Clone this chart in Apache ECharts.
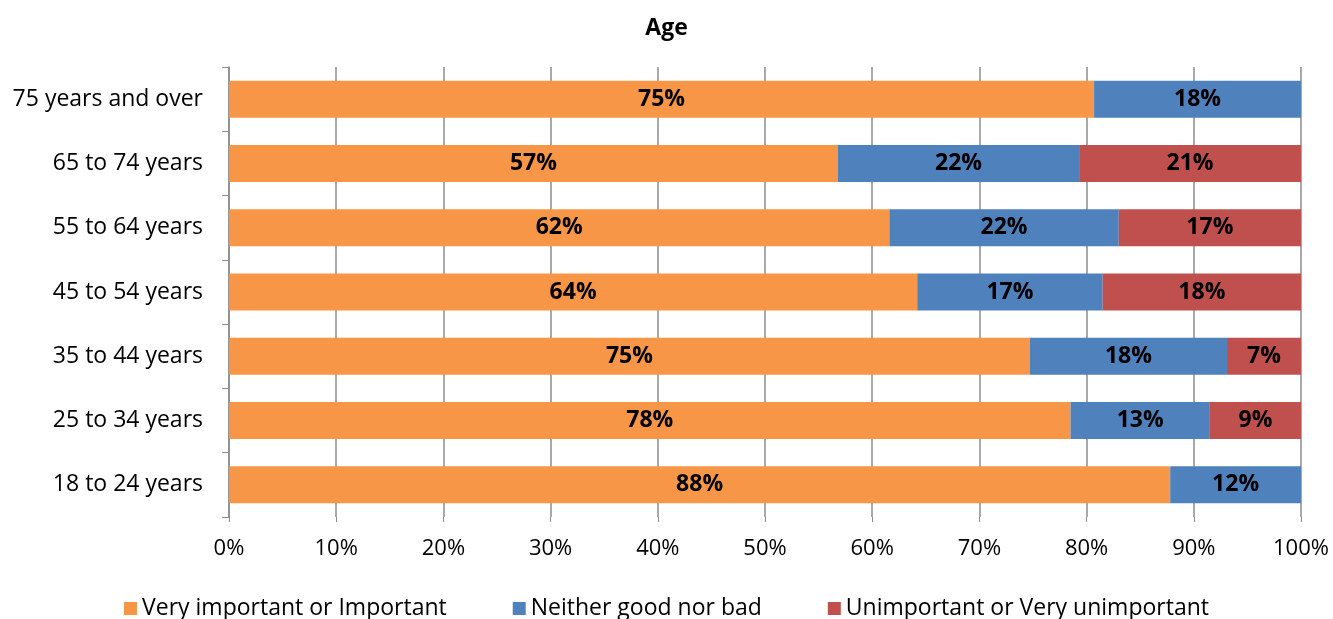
<!DOCTYPE html>
<html>
<head>
<meta charset="utf-8">
<script src="https://cdn.jsdelivr.net/npm/echarts@6/dist/echarts.min.js"></script>
<style>
  html, body { margin: 0; padding: 0; background: #fff; }
  #main { width: 1333px; height: 619px; }
</style>
</head>
<body>
<div id="main"></div>
<script>
// age groups, bottom to top
var ageGroups = ['18 to 24 years', '25 to 34 years', '35 to 44 years', '45 to 54 years', '55 to 64 years', '65 to 74 years', '75 years and over'];
var seriesNames = ['Very important or Important', 'Neither good nor bad', 'Unimportant or Very unimportant'];

// bar lengths (share of respondents, %)
var importantVals = [87.8, 78.5, 74.7, 64.2, 61.6, 56.8, 80.7];
var neitherVals = [12.2, 13.0, 18.4, 17.3, 21.4, 22.5, 19.3];
var unimportantVals = [0, 8.5, 6.9, 18.5, 17.0, 20.7, 0];

// printed labels
var importantLabels = ['88%', '78%', '75%', '64%', '62%', '57%', '75%'];
var neitherLabels = ['12%', '13%', '18%', '17%', '22%', '22%', '18%'];
var unimportantLabels = ['', '9%', '7%', '18%', '17%', '21%', ''];

var xTicks = ['0%', '10%', '20%', '30%', '40%', '50%', '60%', '70%', '80%', '90%', '100%'];

var colors = ['#F79646', '#4F81BD', '#C0504D'];
var fontFam = '"Open Sans", "Noto Sans", sans-serif';

var myChart = echarts.init(document.getElementById('main'));

function makeSeries(name, vals, labels) {
  return {
    name: name,
    type: 'bar',
    stack: 'total',
    barWidth: 37,
    data: vals,
    label: {
      show: true,
      position: 'inside',
      color: '#000',
      fontWeight: 'bold',
      fontSize: 23,
      fontFamily: fontFam,
      formatter: function (p) {
        return labels[p.dataIndex];
      }
    }
  };
}

myChart.setOption({
  color: colors,
  animation: false,
  title: {
    text: 'Age',
    left: 'center',
    top: 12,
    textStyle: { fontSize: 23, fontWeight: 'bold', color: '#000', fontFamily: fontFam }
  },
  legend: {
    top: 592,
    left: 'center',
    itemWidth: 13,
    itemHeight: 13,
    itemGap: 66,
    icon: 'rect',
    textStyle: { fontSize: 23, color: '#000', fontFamily: fontFam },
    data: seriesNames
  },
  grid: { left: 229, right: 32, top: 67, bottom: 102, containLabel: false },
  xAxis: {
    type: 'value',
    min: 0,
    max: 100,
    interval: 10,
    axisLine: { show: false },
    axisTick: { show: true, length: 5, lineStyle: { color: '#8c8c8c' } },
    splitLine: { show: true, lineStyle: { color: '#8c8c8c', width: 1.5 } },
    axisLabel: {
      margin: 21,
      fontSize: 22,
      color: '#000',
      fontFamily: fontFam,
      formatter: function (v) { return xTicks[Math.round(v / 10)]; }
    }
  },
  yAxis: {
    type: 'category',
    data: ageGroups,
    axisLine: { show: true, lineStyle: { color: '#8c8c8c', width: 1.5 } },
    axisTick: { show: true, length: 7, lineStyle: { color: '#8c8c8c' } },
    axisLabel: { margin: 26, fontSize: 23, color: '#000', fontFamily: fontFam }
  },
  series: [
    makeSeries(seriesNames[0], importantVals, importantLabels),
    makeSeries(seriesNames[1], neitherVals, neitherLabels),
    makeSeries(seriesNames[2], unimportantVals, unimportantLabels)
  ]
});
</script>
</body>
</html>
